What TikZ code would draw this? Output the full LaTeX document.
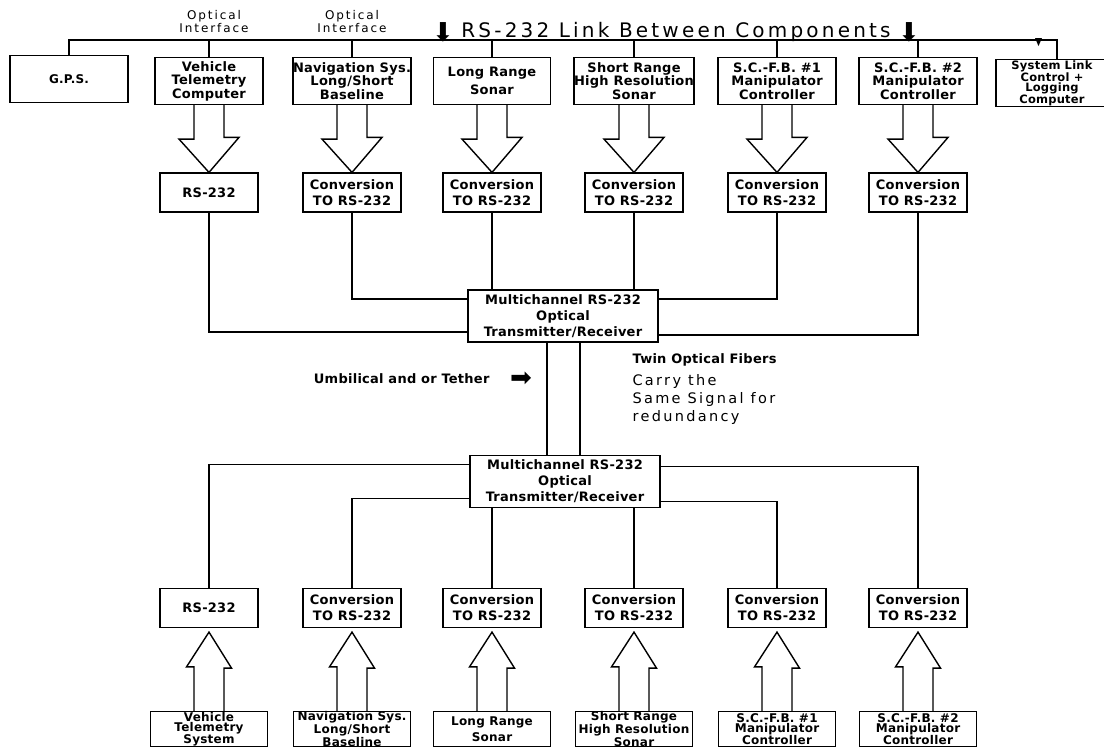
\documentclass[tikz,border=0pt]{standalone}
\usepackage{fontspec}
\newfontfamily\cadfont[LetterSpace=16]{DejaVu Sans}
\newfontfamily\cadbold[LetterSpace=2]{DejaVu Sans Bold}
\newfontfamily\symfont{DejaVu Sans}

\begin{document}
\begin{tikzpicture}[x=1pt,y=-1pt,line width=1.1pt,
		box/.style={draw,line width=1.2pt,fill=white,inner sep=0pt,align=center,font=\cadbold\fontsize{13}{13.5}\selectfont},
		srcbox/.style={box,minimum height=47pt},
		convbox/.style={box,minimum width=98pt,minimum height=39pt,font=\cadbold\fontsize{13}{16}\selectfont},
		lowbox/.style={box,minimum height=35pt,font=\cadbold\fontsize{12}{10}\selectfont},
		muxbox/.style={box,minimum width=190pt,minimum height=52pt,font=\cadbold\fontsize{13}{16}\selectfont},
		hollow/.style={draw,line width=1.4pt,fill=white,line join=miter},
		note/.style={inner sep=0pt,font=\cadbold\fontsize{13}{14}\selectfont},
		plain/.style={inner sep=0pt,align=center,font=\cadfont\fontsize{12}{13}\selectfont}]
	\useasboundingbox (0,0) rectangle (1104,747);

	\node[srcbox,minimum width=118pt,font=\cadbold\fontsize{12}{12}\selectfont] (gps) at (69,79) {G.P.S.};
	\node[srcbox,minimum width=112pt,font=\cadbold\fontsize{11.5}{10}\selectfont] (slc) at (1052,83) {System Link\\Control +\\Logging\\Computer};
	\foreach \i/\x/\w/\txt in {1/209/108/{Vehicle\\Telemetry\\Computer},2/352/117/{Navigation Sys.\\Long/Short\\Baseline},3/492/117/{Long Range\\[4pt]Sonar},4/634/120/{Short Range\\High Resolution\\Sonar},5/777/118/{S.C.-F.B. \#1\\Manipulator\\Controller},6/918/118/{S.C.-F.B. \#2\\Manipulator\\Controller}}
		\node[srcbox,minimum width=\w pt] (ts\i) at (\x,81) {\txt};
	\foreach \i/\x/\txt in {1/209/{Vehicle\\Telemetry\\System},2/352/{Navigation Sys.\\Long/Short\\Baseline},3/492/{Long Range\\[4pt]Sonar},4/634/{Short Range\\High Resolution\\Sonar},5/777/{S.C.-F.B. \#1\\Manipulator\\Controller},6/918/{S.C.-F.B. \#2\\Manipulator\\Controller}}
		\node[lowbox,minimum width=117pt] (bs\i) at (\x,729) {\txt};
	\node[convbox] (tc1) at (209,192.5) {RS-232};
	\node[convbox] (bc1) at (209,608) {RS-232};
	\foreach \i/\x in {2/352,3/492,4/634,5/777,6/918}{
		\node[convbox] (tc\i) at (\x,192.5) {Conversion\\TO RS-232};
		\node[convbox] (bc\i) at (\x,608) {Conversion\\TO RS-232};
	}
	\node[muxbox] (mtop) at (563,316) {Multichannel RS-232\\Optical\\Transmitter/Receiver};
	\node[muxbox] (mbot) at (565,481.5) {Multichannel RS-232\\Optical\\Transmitter/Receiver};

	\coordinate (busR) at (1057,40);
	\draw (gps.north) |- (busR) -- (busR |- slc.north);
	\foreach \i in {1,...,6}
		\draw (ts\i.north) -- (ts\i.north |- busR);
	\fill (1035,38) -- (1042,38) -- (1038.5,46) -- cycle;
	\node[anchor=base,inner sep=0pt,font=\cadfont\fontsize{20}{22}\selectfont] (title) at (676,37) {RS-232 Link Between Components};
	\node[anchor=base,inner sep=0pt,font=\symfont\fontsize{26}{26}\selectfont] (arrL) at (443,41) {⬇};
	\node[anchor=base,inner sep=0pt,font=\symfont\fontsize{26}{26}\selectfont] (arrR) at (909,41) {⬇};
	\node[plain] (optA) at (214,22) {Optical\\Interface};
	\node[plain] (optB) at (352,22) {Optical\\Interface};

	\foreach \i in {1,...,6}{
		\draw[hollow] ([xshift=-15pt]ts\i.south) -- ++(0,34) -- ++(-15,0) -- (tc\i.north) -- ++(30,-35) -- ++(-15,0) -- ([xshift=15pt]ts\i.south);
		\draw[hollow] ([xshift=-15pt]bs\i.north) -- ++(0,-44) -- ++(-7.5,0) -- ([yshift=-4pt]bc\i.south) -- ++(22.5,36) -- ++(-7.5,0) -- ([xshift=15pt]bs\i.north);
	}

	\draw (tc1.south) |- ([yshift=-16pt]mtop.west);
	\draw (tc2.south) |- ([yshift=17pt]mtop.west);
	\draw (tc3.south) -- (tc3.south |- mtop.north);
	\draw (tc4.south) -- (tc4.south |- mtop.north);
	\draw (tc5.south) |- ([yshift=17pt]mtop.east);
	\draw (tc6.south) |- ([yshift=-19pt]mtop.east);

	\draw ([xshift=-16pt]mtop.south) -- ([xshift=-16pt]mtop.south |- mbot.north);
	\draw ([xshift=17pt]mtop.south) -- ([xshift=17pt]mtop.south |- mbot.north);

	\draw ([yshift=17pt]mbot.west) -| (bc1.north);
	\draw ([yshift=-17pt]mbot.west) -| (bc2.north);
	\draw (bc3.north) -- (bc3.north |- mbot.south);
	\draw (bc4.north) -- (bc4.north |- mbot.south);
	\draw ([yshift=-20pt]mbot.east) -| (bc5.north);
	\draw ([yshift=15pt]mbot.east) -| (bc6.north);

	\node[note,anchor=east] (tether) at (490,379) {Umbilical and or Tether};
	\node[inner sep=0pt,font=\symfont\fontsize{26}{26}\selectfont] (tetherarr) at (521,379) {➡};
	\node[note,anchor=west] (twin) at (632,360) {Twin Optical Fibers};
	\node[anchor=north west,inner sep=0pt,align=left,font=\cadfont\fontsize{14.5}{18}\selectfont] (carry) at (632,374) {Carry the\\Same Signal for\\redundancy};
\end{tikzpicture}
\end{document}
